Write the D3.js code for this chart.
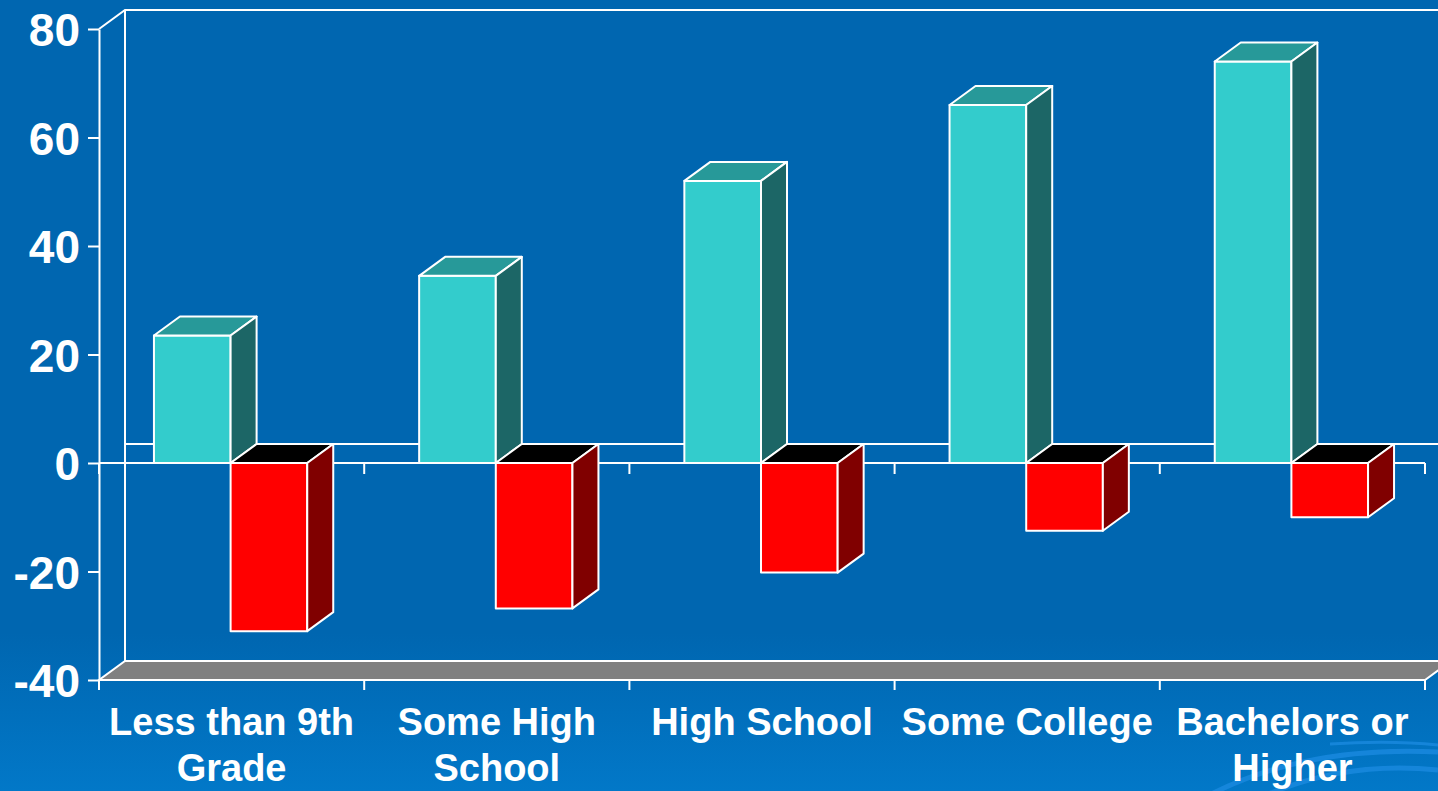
<!DOCTYPE html>
<html>
<head>
<meta charset="utf-8">
<script src="https://cdn.jsdelivr.net/npm/d3@7"></script>
<style>
  html, body { margin: 0; padding: 0; overflow: hidden; background: #0066b0; }
  text { font-family: "Liberation Sans", Arial, sans-serif; font-weight: bold; fill: #fff; }
</style>
</head>
<body>
<div id="chart"></div>
<script>
// categories and values
const categories = ['Less than 9th Grade', 'Some High School', 'High School', 'Some College', 'Bachelors or Higher'];
const labelLines = [['Less than 9th', 'Grade'], ['Some High', 'School'], ['High School'], ['Some College'], ['Bachelors or', 'Higher']];
const seriesNames = ['gain', 'loss'];
const gainValues = [23.5, 34.5, 52, 66, 74];
const lossValues = [-31, -26.8, -20.2, -12.5, -10];
const yTicks = [-40, -20, 0, 20, 40, 60, 80];

const width = 1438, height = 791;
const depthX = 26, depthY = -19;

const svg = d3.select('#chart').append('svg')
    .attr('width', width)
    .attr('height', height);

// background with lighter band at the bottom
const defs = svg.append('defs');
const grad = defs.append('linearGradient').attr('id', 'bg').attr('x1', 0).attr('y1', 0).attr('x2', 0).attr('y2', 1);
grad.append('stop').attr('offset', '0.8').attr('stop-color', '#0066b0');
grad.append('stop').attr('offset', '1').attr('stop-color', '#0278c8');
svg.append('rect').attr('width', width).attr('height', height).attr('fill', 'url(#bg)');

// faint swirl in the bottom right corner
const swirl = svg.append('g').attr('fill', 'none').attr('stroke', '#1a8ae0').attr('stroke-width', 5).attr('opacity', 0.8);
swirl.append('path').attr('d', 'M1200,800 Q1300,745 1438,752');
swirl.append('path').attr('d', 'M1255,800 Q1340,760 1438,770');
swirl.append('path').attr('d', 'M1330,744 Q1390,740 1438,745').attr('stroke-width', 3);

const y = d3.scaleLinear().domain([-40, 80]).range([680, 29]);
const x = d3.scaleBand().domain(categories).range([99, 1425]).padding(0);
const xs = d3.scaleBand().domain(seriesNames).range([0, x.bandwidth()]).paddingInner(0).paddingOuter(0.73);

const line = '#ffffff', lw = 2;
const g = svg.append('g');

// back wall and floor
const x0 = x.range()[0], x1 = x.range()[1];
g.append('polygon')
    .attr('points', [[x0, y(-40)], [x1, y(-40)], [x1 + depthX, y(-40) + depthY], [x0 + depthX, y(-40) + depthY]].join(' '))
    .attr('fill', '#808080').attr('stroke', line).attr('stroke-width', lw);
g.append('path')
    .attr('d', `M${x0},${y(80)} L${x0 + depthX},${y(80) + depthY} L${x1 + 40},${y(80) + depthY}
                M${x0 + depthX},${y(80) + depthY} L${x0 + depthX},${y(-40) + depthY}
                M${x0 + depthX},${y(0) + depthY} L${x1 + 40},${y(0) + depthY}`)
    .attr('fill', 'none').attr('stroke', line).attr('stroke-width', lw);

// front zero line with ticks at category boundaries
g.append('line').attr('x1', x0).attr('x2', x1).attr('y1', y(0)).attr('y2', y(0))
    .attr('stroke', line).attr('stroke-width', lw);
const bounds = categories.map(c => x(c)).concat([x1]);
g.selectAll('.tick0').data(bounds).enter().append('line')
    .attr('x1', d => d).attr('x2', d => d).attr('y1', y(0)).attr('y2', y(0) + 11)
    .attr('stroke', line).attr('stroke-width', lw);
g.selectAll('.tickb').data(bounds).enter().append('line')
    .attr('x1', d => d).attr('x2', d => d).attr('y1', y(-40)).attr('y2', y(-40) + 10)
    .attr('stroke', line).attr('stroke-width', lw);

// bars
const colors = {
    gain: { front: '#33cccc', top: '#279999', side: '#1c6666' },
    loss: { front: '#ff0000', top: '#000000', side: '#800000' }
};
const bars = [];
categories.forEach((c, i) => {
    bars.push({ cat: c, s: 'gain', v: gainValues[i] });
    bars.push({ cat: c, s: 'loss', v: lossValues[i] });
});

const bar = g.selectAll('.bar').data(bars).enter().append('g').attr('class', 'bar')
    .attr('stroke', line).attr('stroke-width', lw).attr('stroke-linejoin', 'round');
bar.each(function (d) {
    const b = d3.select(this);
    const l = x(d.cat) + xs(d.s) - 1, r = l + xs.bandwidth();
    const top = Math.min(y(0), y(d.v)), bot = Math.max(y(0), y(d.v));
    b.append('rect').attr('x', l).attr('y', top).attr('width', r - l).attr('height', bot - top)
        .attr('fill', colors[d.s].front);
    b.append('polygon')
        .attr('points', [[l, top], [r, top], [r + depthX, top + depthY], [l + depthX, top + depthY]].join(' '))
        .attr('fill', colors[d.s].top);
    b.append('polygon')
        .attr('points', [[r, top], [r + depthX, top + depthY], [r + depthX, bot + depthY], [r, bot]].join(' '))
        .attr('fill', colors[d.s].side);
});

// y axis
const yAxis = g.append('g').attr('transform', `translate(${x0},0)`)
    .call(d3.axisLeft(y).tickValues(yTicks).tickFormat(d => String(d)).tickSize(11).tickSizeOuter(0).tickPadding(8));
yAxis.selectAll('path, line').attr('stroke', line).attr('stroke-width', lw);
yAxis.selectAll('text').attr('font-size', 46).attr('font-family', null).attr('fill', '#fff').attr('dy', '0.36em');

// category labels
const lab = g.selectAll('.lab').data(categories).enter().append('text')
    .attr('text-anchor', 'middle')
    .attr('font-size', 38)
    .attr('x', d => x(d) + x.bandwidth() / 2)
    .attr('y', 735);
lab.each(function (d, i) {
    d3.select(this).selectAll('tspan').data(labelLines[i]).enter().append('tspan')
        .attr('x', x(d) + x.bandwidth() / 2)
        .attr('dy', (t, j) => j === 0 ? 0 : 46)
        .text(t => t);
});
</script>
</body>
</html>
